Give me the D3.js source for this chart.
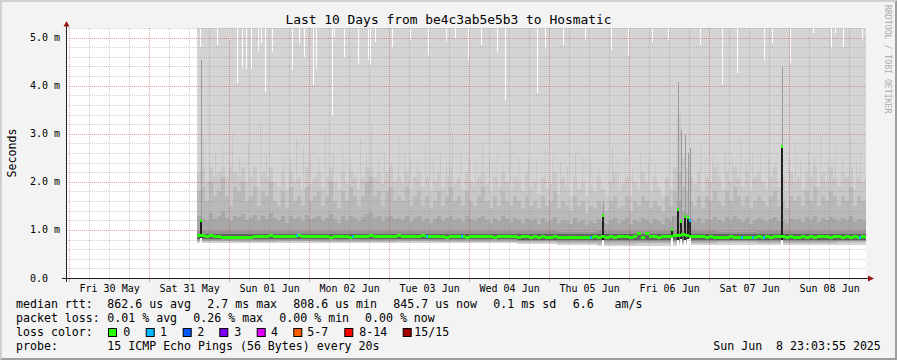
<!DOCTYPE html>
<html><head><meta charset="utf-8">
<script src="https://cdn.jsdelivr.net/npm/d3@7"></script>
<style>
html,body{margin:0;padding:0;background:#f3f3f3;}
svg{display:block;}
text{font-family:"DejaVu Sans Mono",monospace;white-space:pre;}
</style></head><body>
<svg id="chart" width="897" height="360"></svg>
<script>
// ---------------- DATA ----------------
const titleText = "Last 10 Days from be4c3ab5e5b3 to Hosmatic";
const yAxisTitle = "Seconds";
const endTime = new Date(Date.UTC(2025,5,8,23,3,55));
const BASE = Date.UTC(2025,4,30,0,0,0);          // day offsets below are relative to this
const DAY = 86400000;
const colStart = Date.UTC(2025,4,31,14,24,0);    // first smoke column
const colStepMin = 72;                           // fine column length (minutes)
const coarseStepMin = 720;                       // coarse column length (minutes)

// median RTT per fine column (ms)
const median = [
0.88,0.88,0.87,0.88,0.87,0.86,0.85,0.84,0.85,0.84,
0.84,0.85,0.84,0.85,0.86,0.87,0.86,0.87,0.88,0.87,
0.87,0.86,0.87,0.86,0.87,0.88,0.87,0.86,0.87,0.86,
0.86,0.87,0.86,0.85,0.86,0.87,0.86,0.86,0.85,0.86,
0.87,0.86,0.87,0.88,0.87,0.86,0.87,0.86,0.86,0.87,
0.88,0.87,0.86,0.87,0.86,0.87,0.88,0.87,0.86,0.86,
0.87,0.86,0.85,0.86,0.87,0.86,0.86,0.85,0.86,0.87,
0.86,0.86,0.87,0.86,0.85,0.86,0.86,0.87,0.86,0.86,
0.85,0.86,0.86,0.85,0.86,0.85,0.86,0.85,0.85,0.86,
0.85,0.84,0.85,0.85,0.84,0.85,0.85,0.84,0.85,0.86,
0.85,0.86,0.85,0.86,0.85,0.86,0.87,0.86,0.85,0.86,
0.93,0.85,0.92,0.87,0.86,0.85,0.86,0.87,0.87,0.88,
0.88,0.90,0.88,0.87,0.86,0.87,0.86,0.85,0.86,0.85,
0.85,0.84,0.85,0.86,0.85,0.84,0.85,0.84,0.85,0.85,
0.86,0.85,0.86,0.85,0.86,0.87,0.86,0.85,0.86,0.85,
0.85,0.86,0.85,0.86,0.85,0.86,0.87,0.86,0.85,0.86,
0.86,0.85,0.86,0.85,0.86,0.85,0.86,0.85];

// upper smoke percentiles per fine column (ms)
const upperB = [
2.2,2.3,2.0,2.3,2.1,2.2,2.3,2.1,2.3,2.2,
2.1,2.3,2.0,2.1,2.3,1.9,2.2,2.1,2.3,2.0,
1.9,2.2,1.85,2.2,2.0,2.1,1.85,2.3,1.95,2.1,
2.2,1.9,2.1,2.3,2.0,1.85,2.2,1.95,2.2,2.1,
1.85,2.1,2.3,2.3,2.1,2.2,1.95,2.2,2.3,2.0,
2.1,1.95,2.2,1.85,2.1,2.2,1.9,2.1,1.8,2.0,
2.2,1.9,2.1,2.3,1.95,2.1,1.85,2.2,2.0,1.9,
2.1,2.2,1.95,1.8,2.1,1.9,2.2,2.0,1.85,2.1,
2.0,1.8,2.2,1.9,2.0,1.75,2.1,1.85,1.95,2.2,
1.75,2.1,1.9,1.7,2.1,1.85,2.0,1.7,1.9,1.8,
2.1,1.85,1.7,2.0,2.2,1.8,1.95,2.1,1.7,2.0,
1.85,2.2,2.0,1.8,2.1,1.9,1.7,2.1,1.85,2.3,
3.4,2.5,2.3,2.1,1.95,2.2,1.8,2.1,2.0,2.3,
2.1,1.85,2.2,2.0,2.3,2.1,1.9,2.2,1.8,2.1,
2.2,2.0,1.85,2.1,2.3,1.9,2.1,1.8,2.2,2.0,
2.1,1.85,2.2,2.1,2.3,1.9,2.2,2.0,2.3,2.1,
1.9,2.2,2.1,2.3,1.85,2.1,2.0,2.1];
const upperC = [
1.8,1.9,1.6,2.0,1.7,1.8,2.1,1.7,1.5,1.9,
1.8,2.0,1.6,1.7,1.9,1.5,1.8,1.7,2.0,1.6,
1.5,1.8,1.45,1.9,1.6,1.7,1.5,1.9,1.6,1.7,
1.8,1.5,1.7,2.0,1.6,1.45,1.8,1.6,1.9,1.7,
1.5,1.7,2.0,2.1,1.7,1.8,1.5,1.8,1.9,1.6,
1.7,1.6,1.9,1.5,1.7,1.8,1.5,1.7,1.45,1.6,
1.8,1.5,1.7,1.9,1.6,1.7,1.5,1.8,1.6,1.5,
1.7,1.9,1.6,1.45,1.7,1.5,1.8,1.6,1.5,1.7,
1.6,1.45,1.7,1.5,1.6,1.45,1.7,1.5,1.6,1.8,
1.45,1.6,1.5,1.4,1.7,1.5,1.6,1.35,1.5,1.45,
1.6,1.5,1.4,1.6,1.7,1.45,1.5,1.7,1.4,1.6,
1.5,1.7,1.6,1.45,1.6,1.5,1.4,1.7,1.5,1.8,
2.2,1.9,1.8,1.6,1.5,1.7,1.45,1.7,1.6,1.8,
1.6,1.5,1.8,1.6,1.9,1.7,1.5,1.7,1.45,1.6,
1.7,1.6,1.5,1.7,1.8,1.5,1.6,1.45,1.7,1.6,
1.7,1.5,1.8,1.6,1.9,1.5,1.7,1.6,1.8,1.7,
1.5,1.7,1.6,1.9,1.5,1.7,1.6,1.6];
const upperD = [
1.30,1.25,1.20,1.35,1.22,1.28,1.40,1.24,1.18,1.30,
1.26,1.34,1.20,1.25,1.32,1.18,1.28,1.22,1.36,1.24,
1.20,1.28,1.15,1.30,1.22,1.26,1.18,1.32,1.22,1.25,
1.28,1.18,1.24,1.34,1.22,1.15,1.28,1.20,1.30,1.24,
1.18,1.26,1.34,1.38,1.24,1.28,1.18,1.26,1.30,1.22,
1.25,1.20,1.30,1.16,1.24,1.28,1.18,1.24,1.14,1.22,
1.28,1.18,1.24,1.30,1.20,1.25,1.16,1.28,1.22,1.18,
1.24,1.30,1.20,1.14,1.25,1.18,1.28,1.22,1.16,1.24,
1.20,1.14,1.25,1.18,1.22,1.12,1.24,1.16,1.20,1.26,
1.14,1.20,1.18,1.12,1.24,1.16,1.20,1.10,1.18,1.14,
1.22,1.16,1.12,1.20,1.24,1.14,1.18,1.24,1.12,1.20,
1.16,1.24,1.20,1.14,1.22,1.18,1.12,1.24,1.18,1.30,
1.60,1.40,1.36,1.22,1.18,1.24,1.14,1.22,1.20,1.26,
1.20,1.16,1.26,1.20,1.28,1.22,1.16,1.24,1.12,1.20,
1.24,1.20,1.16,1.22,1.26,1.18,1.20,1.14,1.24,1.20,
1.22,1.16,1.26,1.20,1.28,1.16,1.24,1.20,1.26,1.22,
1.18,1.24,1.20,1.28,1.16,1.22,1.20,1.20];
// coarse (12 h) percentiles (ms)
const upperE = [0.98,0.97,0.98,0.97,0.98,0.98,0.97,0.97,0.97,0.96,0.97,0.97,0.97,0.96,0.97,0.97,0.97];
const upperF = [0.92,0.91,0.92,0.915,0.92,0.92,0.915,0.915,0.91,0.905,0.91,0.91,0.91,0.905,0.91,0.91,0.91];
const lowerF = [0.81,0.805,0.81,0.805,0.805,0.81,0.805,0.805,0.80,0.795,0.79,0.79,0.795,0.80,0.795,0.795,0.80];
const lowerE = [0.79,0.785,0.79,0.785,0.785,0.79,0.785,0.785,0.78,0.775,0.765,0.77,0.775,0.78,0.775,0.775,0.78];
const lowerD = [0.775,0.77,0.775,0.77,0.77,0.775,0.77,0.77,0.765,0.755,0.74,0.745,0.755,0.76,0.755,0.755,0.76];
const lowerC = [0.76,0.755,0.76,0.755,0.755,0.76,0.755,0.755,0.75,0.735,0.715,0.725,0.735,0.74,0.735,0.735,0.74];
const lowerB = [0.745,0.74,0.745,0.74,0.74,0.745,0.74,0.74,0.73,0.715,0.69,0.70,0.715,0.72,0.715,0.715,0.72];
const lowerA = [0.725,0.72,0.725,0.72,0.72,0.725,0.72,0.72,0.71,0.69,0.665,0.675,0.69,0.695,0.69,0.69,0.695];

// single samples whose 13th ping reached high (day offset, ms)
const tallDay = [1.675,1.75,1.825,1.9125,2.0375,2.125,2.2375,2.3875,2.4625,2.675,2.7625,2.8375,2.925,3.0125,3.1125,3.2,3.3,3.4125,3.5125,3.6375,3.7125,3.775,3.8625,3.9375,4.025,4.1125,4.1875,4.2625,4.35,4.45,4.55,4.6375,4.7125,4.7875,4.8875,4.9875,5.075,5.1625,5.25,5.35,5.425,5.5125,5.6125,5.7375,5.837,5.95,6.037,6.1375,6.225,6.325,6.412,6.5125,6.6125,6.7875,6.8625,6.95,7.037,7.1375,7.237,7.325,7.8875,7.95,8.0375,8.1125,8.2,8.2875,8.3875,8.4625,8.5375,8.637,8.7375,8.825,8.9875,9.075,9.1375,9.2375,9.3125,9.3875,9.475,9.575,9.6625,9.7625,9.8375,9.8875];
const tallVal = [2.9,2.4,2.6,2.7,3.0,2.5,2.8,3.2,2.6,2.5,2.4,2.9,2.7,2.6,2.5,3.1,2.6,2.7,2.4,2.9,2.6,3.2,2.5,2.6,2.4,3.0,2.6,2.5,2.4,2.8,2.5,2.6,2.4,3.0,2.6,2.5,2.4,2.8,2.5,2.6,2.4,2.9,2.5,2.5,2.4,2.7,2.5,2.4,2.3,2.6,2.5,2.4,2.3,2.7,2.4,2.5,2.3,2.6,2.4,2.4,2.8,2.5,2.5,2.4,2.7,2.5,2.9,2.4,2.6,2.6,2.5,2.4,2.5,2.8,2.4,2.6,2.5,3.0,2.4,2.7,2.5,2.9,2.4,2.6];

// samples whose maximum stayed below the top of the graph (day offset, ms)
const maxDipDay = [1.6375,1.85,2.0,2.1,2.1625,2.2125,2.275,2.3625,2.4,2.45,2.5375,2.7875,2.875,2.9375,3.05,3.0875,3.2875,3.3125,3.4375,3.6125,3.7375,3.7625,3.825,4.0375,4.2625,4.4875,4.7125,4.825,4.9875,5.15,5.35,5.45,5.85,5.95,6.175,6.45,6.775,6.9875,7.2875,7.4875,7.8875,8.1625,8.35,8.6875,8.7875,9.0125,9.3,9.525,9.575,9.675,9.9125];
const maxDipVal = [4.80,4.85,4.95,4.06,4.37,4.35,4.35,4.72,4.89,3.87,4.70,4.33,4.89,4.60,4.01,4.35,3.37,5.01,4.58,4.45,4.53,4.43,4.91,4.78,4.95,4.64,4.91,4.99,4.53,4.85,4.70,3.70,3.85,4.78,4.85,4.95,4.74,4.64,4.91,4.95,4.85,4.01,4.26,4.53,4.89,4.47,5.10,4.80,5.10,4.80,4.95];

// short latency spikes (day offset, median ms, max ms, min ms, lost pings)
const spikeDay    = [1.64375,6.675,7.5375,7.60625,7.65,7.69375,7.73125,7.7625,8.90625];
const spikeMedian = [1.20,1.30,1.00,1.42,1.18,1.27,1.25,1.20,2.73];
const spikeMax    = [4.53,1.60,1.30,4.08,3.08,2.97,2.60,2.70,4.40];
const spikeMin    = [0.84,0.80,0.84,0.80,0.82,0.80,0.82,0.84,0.80];
const spikeLoss   = [0,0,0,0,0,0,0,1,0];

// samples with 1 lost ping (day offset)
const lossDay = [2.85,3.55,4.475,4.9125,6.525,8.4125,8.55,8.6875,9.8875];

const lossLabels = ["0","1","2","3","4","5-7","8-14","15/15"];
const lossColors = ["#26ff00","#00b8ff","#0059ff","#7e00ff","#dd00ff","#ff5e00","#ff0000","#a10000"];

const xTickLabels = ["Fri 30 May","Sat 31 May","Sun 01 Jun","Mon 02 Jun","Tue 03 Jun","Wed 04 Jun","Thu 05 Jun","Fri 06 Jun","Sat 07 Jun","Sun 08 Jun"];
const yTickValues = [0,1,2,3,4,5];
const yTickLabels = ["0.0","1.0 m","2.0 m","3.0 m","4.0 m","5.0 m"];

const rttLabel = "median rtt:";
const rttStats = ["862.6 us avg","2.7 ms max","808.6 us min","845.7 us now","0.1 ms sd","6.6   am/s"];
const lossLabel = "packet loss:";
const lossStats = ["0.01 % avg","0.26 % max","0.00 % min","0.00 % now"];
const colorLabel = "loss color:";
const probeLabel = "probe:";
const probeText = "15 ICMP Echo Pings (56 Bytes) every 20s";
const stampText = "Sun Jun  8 23:03:55 2025";
const watermark = "RRDTOOL / TOBI OETIKER";

// ---------------- LAYOUT ----------------
const W = 897, H = 360;
const L = 66, R = 866, T = 28, B = 278;
const Y_MAX = 5.2;
const rttX = [107.3,207.3,293.3,393.3,493.3,572.7];
const lossX = [107.3,193.3,279.3,365];
const swatchX = [108,145.7,182.7,219.3,256.7,293.3,344.3,402.7];
const swatchLabelX = [123.3,160,197.3,234.3,271,307.3,359.3,414.3];
const legendY = [307.5,321.5,335.5,349.5];
const bandColors = ["#d4d4d4","#c8c8c8","#b9b9b9","#a7a7a7","#939393","#626262"];

const svg = d3.select("#chart");
const x = d3.scaleUtc().domain([new Date(+endTime - 10*DAY), endTime]).range([L, R]);
const y = d3.scaleLinear().domain([0, Y_MAX]).range([B, T]);
const snap = v => Math.round(v) + 0.5;

// background & 3D frame
svg.append("rect").attr("width",W).attr("height",H).attr("fill","#f3f3f3");
svg.append("path").attr("d","M0,0H897L895,2H2V358L0,360Z").attr("fill","#d0d0d0");
svg.append("path").attr("d","M897,0V360H0L2,358H895V2Z").attr("fill","#9e9e9e");
svg.append("rect").attr("x",L).attr("y",T).attr("width",R-L).attr("height",B-T).attr("fill","#ffffff");

svg.append("clipPath").attr("id","plot").append("rect").attr("x",L).attr("y",T).attr("width",R-L).attr("height",B-T);
const plot = svg.append("g").attr("clip-path","url(#plot)").attr("shape-rendering","crispEdges");

// columns
const colTime = i => new Date(colStart + i*colStepMin*60000);
const slot = i => Math.floor(i*colStepMin/coarseStepMin);
const N = median.length;
const idx = d3.range(N + 1);  // last index = closing point of step curve
const clampI = i => Math.min(i, N - 1);
const dayTime = d => new Date(BASE + d*DAY);
const colOf = d => Math.max(0, Math.min(N-1, Math.floor((BASE + d*DAY - colStart)/(colStepMin*60000))));

const bands = [
  {lo: lowerA, hi: null},
  {lo: lowerB, hi: upperB, fine: true},
  {lo: lowerC, hi: upperC, fine: true},
  {lo: lowerD, hi: upperD, fine: true},
  {lo: lowerE, hi: upperE},
  {lo: lowerF, hi: upperF}
];
bands.forEach((b, k) => {
  const hiVal = i => b.hi == null ? Y_MAX : (b.fine ? b.hi[clampI(i)] : b.hi[slot(clampI(i))]);
  const area = d3.area()
    .x(i => Math.round(x(colTime(i))))
    .y0(i => y(b.lo[slot(clampI(i))]))
    .y1(i => y(hiVal(i)))
    .curve(d3.curveStepAfter);
  plot.append("path").attr("d", area(idx)).attr("fill", bandColors[k]);
  if (k === 0) {
    // thin single-sample streaks of the second band, drawn before the band itself
    tallDay.forEach((d, j) => {
      plot.append("rect").attr("x", Math.round(x(dayTime(d)))).attr("width", 1)
        .attr("y", y(tallVal[j])).attr("height", y(1.5) - y(tallVal[j])).attr("fill", bandColors[1]);
    });
  }
});

// spikes
const SPIKE_HALF = 18*60000;
spikeDay.forEach((d,k) => {
  const t = BASE + d*DAY;
  const x0 = Math.round(x(new Date(t - SPIKE_HALF))), x1 = Math.round(x(new Date(t + SPIKE_HALF)));
  const lo = lowerA[slot(colOf(d))];
  if (spikeMin[k] > lo) {
    plot.append("rect").attr("x",x0).attr("width",x1-x0)
      .attr("y",y(spikeMin[k])).attr("height",y(lo)-y(spikeMin[k])).attr("fill","#ffffff");
  }
  plot.append("rect").attr("x",Math.round(x(new Date(t)))).attr("width",1)
    .attr("y",y(spikeMax[k])).attr("height",y(spikeMedian[k])-y(spikeMax[k])).attr("fill","#9a9a9a");
  plot.append("rect").attr("x",x0).attr("width",x1-x0)
    .attr("y",y(spikeMedian[k])).attr("height",y(spikeMin[k])-y(spikeMedian[k])).attr("fill","#202020");
});

// maxima below graph top
maxDipDay.forEach((d,k) => {
  plot.append("rect").attr("x", Math.round(x(dayTime(d)))).attr("width",1)
    .attr("y", T).attr("height", y(maxDipVal[k]) - T).attr("fill","#ffffff");
});

// grid
const gGrid = svg.append("g");
const minorCol = "rgba(140,140,140,0.42)", majorCol = "rgba(190,40,40,0.42)";
const yMinor = d3.range(1, Math.round(Y_MAX/0.2)+1).map(k => +(k*0.2).toFixed(1)).filter(v => Math.abs(v - Math.round(v)) > 1e-6);
yMinor.forEach(v => gGrid.append("line").attr("x1",L).attr("x2",R).attr("y1",snap(y(v))).attr("y2",snap(y(v)))
  .attr("stroke",minorCol).attr("stroke-dasharray","1,1"));
const xAll = d3.utcHour.every(6).range(x.domain()[0], x.domain()[1]);
xAll.filter(t => t.getUTCHours() !== 0).forEach(t => {
  gGrid.append("line").attr("x1",snap(x(t))).attr("x2",snap(x(t))).attr("y1",T).attr("y2",B)
    .attr("stroke",minorCol).attr("stroke-dasharray","1,1");
  gGrid.append("line").attr("x1",snap(x(t))).attr("x2",snap(x(t))).attr("y1",B+1).attr("y2",B+3).attr("stroke",minorCol);
});
yTickValues.filter(v => v > 0).forEach(v => gGrid.append("line").attr("x1",L).attr("x2",R).attr("y1",snap(y(v))).attr("y2",snap(y(v)))
  .attr("stroke",majorCol).attr("stroke-dasharray","1,1"));
d3.utcDay.range(x.domain()[0], x.domain()[1]).forEach(t => {
  gGrid.append("line").attr("x1",snap(x(t))).attr("x2",snap(x(t))).attr("y1",T).attr("y2",B)
    .attr("stroke",majorCol).attr("stroke-dasharray","1,1");
  gGrid.append("line").attr("x1",snap(x(t))).attr("x2",snap(x(t))).attr("y1",B+1).attr("y2",B+4).attr("stroke",majorCol);
});

// median band (colored by loss)
const gMed = svg.append("g").attr("clip-path","url(#plot)").attr("shape-rendering","crispEdges");
const mx = i => Math.round(x(colTime(i)));
const my = v => Math.round(y(v) - 1.5);
gMed.selectAll("rect.m").data(d3.range(N)).join("rect")
  .attr("x", i => mx(i)).attr("width", i => mx(i+1) - mx(i))
  .attr("y", i => my(median[i])).attr("height", 3).attr("fill", lossColors[0]);
lossDay.forEach(d => {
  const i = colOf(d);
  gMed.append("rect").attr("x", Math.round(x(dayTime(d))) - 1).attr("width", 2)
    .attr("y", my(median[i])).attr("height", 3).attr("fill", lossColors[1]);
});
spikeDay.forEach((d,k) => {
  const t = BASE + d*DAY;
  const x0 = Math.round(x(new Date(t - SPIKE_HALF))), x1 = Math.round(x(new Date(t + SPIKE_HALF)));
  gMed.append("rect").attr("x",x0).attr("width",x1-x0)
    .attr("y", my(spikeMedian[k])).attr("height",3).attr("fill", lossColors[spikeLoss[k]]);
});

// axes lines + arrows
svg.append("line").attr("x1",62).attr("x2",869).attr("y1",snap(y(0))).attr("y2",snap(y(0))).attr("stroke","#202020");
svg.append("line").attr("x1",L+0.5).attr("x2",L+0.5).attr("y1",282).attr("y2",25).attr("stroke","#202020");
svg.append("path").attr("d","M868,275.5L874,278.5L868,281.5Z").attr("fill","#9a1515");
svg.append("path").attr("d","M63.5,26.5L66.5,21L69.5,26.5Z").attr("fill","#9a1515");

// y axis labels
const gy = svg.append("g").attr("transform",`translate(${L},0)`)
  .call(d3.axisLeft(y).tickValues(yTickValues).tickFormat((d,i) => yTickLabels[i]).tickSize(0));
gy.select(".domain").remove();
gy.attr("font-family","DejaVu Sans Mono, monospace").attr("font-size",10);
gy.selectAll("text").attr("x", 30 - L).attr("dy","0.3em").attr("text-anchor","start").attr("fill","#000");

// x axis labels (noon of each day)
const noon = d3.utcDay.range(x.domain()[0], x.domain()[1]).map(t => new Date(+t + DAY/2));
const gx = svg.append("g").attr("transform",`translate(0,${B})`)
  .call(d3.axisBottom(x).tickValues(noon).tickFormat((d,i) => xTickLabels[i]).tickSize(0));
gx.select(".domain").remove();
gx.attr("font-family","DejaVu Sans Mono, monospace").attr("font-size",10);
gx.selectAll("text").attr("y",13.5).attr("dy",0).attr("fill","#000");

// title, y title, watermark
svg.append("text").attr("x",448.5).attr("y",23.8).attr("text-anchor","middle").attr("font-size",12.9).attr("fill","#000").text(titleText);
svg.append("text").attr("transform","translate(15.5,153) rotate(-90)").attr("text-anchor","middle").attr("font-size",11.6).attr("fill","#000").text(yAxisTitle);
svg.append("text").attr("transform","translate(885,5) rotate(90)").attr("text-anchor","start").attr("font-size",8.2).attr("fill","#ababab").text(watermark);

// legend
const lg = svg.append("g").attr("font-size",11.6).attr("fill","#000");
const put = (tx, ty, s) => lg.append("text").attr("x",tx).attr("y",ty).attr("xml:space","preserve").text(s);
put(16, legendY[0], rttLabel);
rttStats.forEach((s,i) => put(rttX[i], legendY[0], s));
put(16, legendY[1], lossLabel);
lossStats.forEach((s,i) => put(lossX[i], legendY[1], s));
put(16, legendY[2], colorLabel);
lossLabels.forEach((s,i) => {
  lg.append("rect").attr("x", swatchX[i] + 0.5).attr("y", 328.5).attr("width",8).attr("height",8)
    .attr("fill", lossColors[i]).attr("stroke","#000").attr("stroke-width",1);
  put(swatchLabelX[i], legendY[2], s);
});
put(16, legendY[3], probeLabel);
put(107.3, legendY[3], probeText);
put(713.3, legendY[3], stampText);
</script>
</body></html>
